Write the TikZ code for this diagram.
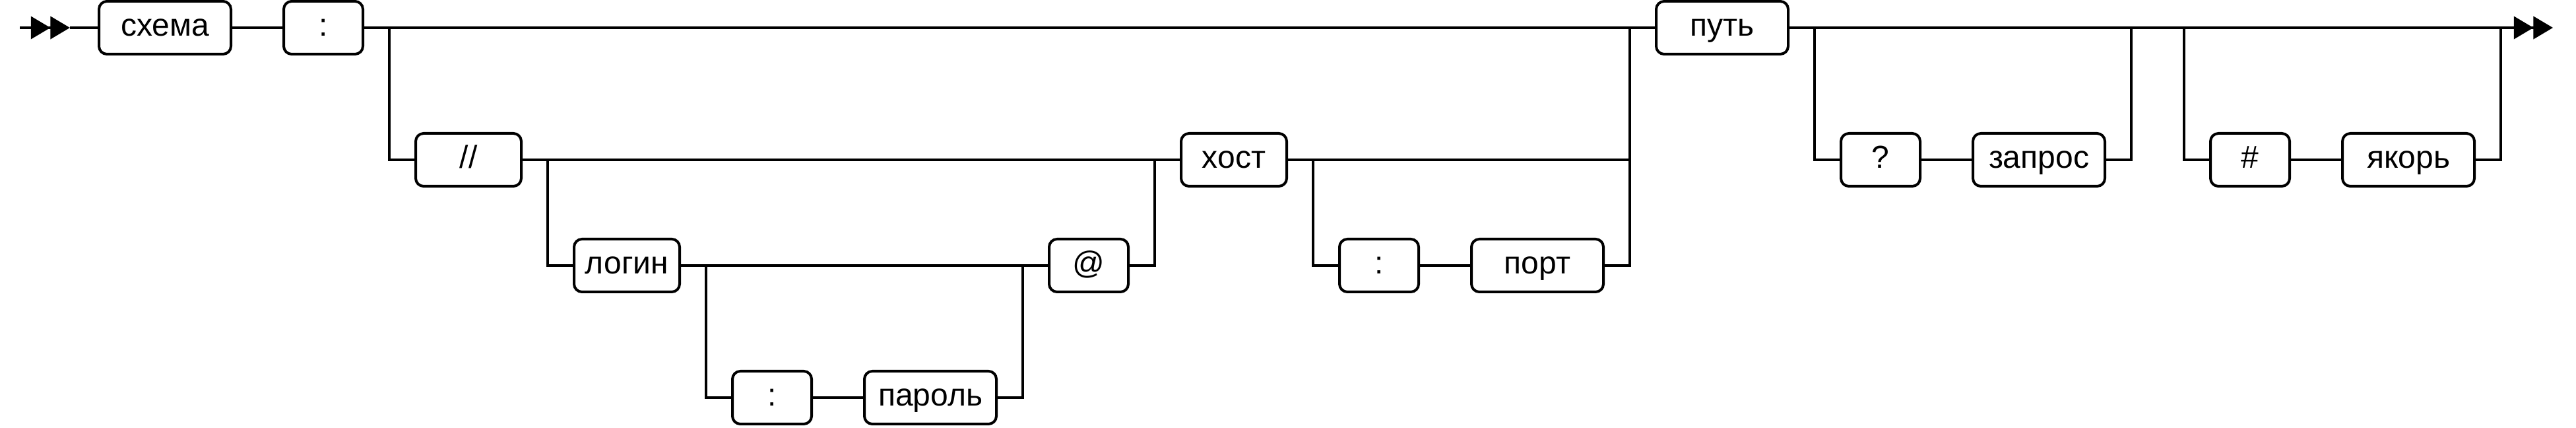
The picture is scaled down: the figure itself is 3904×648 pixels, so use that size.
\documentclass[tikz,border=0pt]{standalone}
\usepackage{fontspec}
\setmainfont{Liberation Sans}
\usetikzlibrary{arrows.meta}
\begin{document}
\begin{tikzpicture}[x=0.25pt,y=-0.25pt,
  line width=1pt,
  term/.style={draw, rounded corners=3pt, inner sep=0pt, outer sep=0pt,
    minimum height=20pt, text height=9pt, text depth=2.5pt,
    font=\fontsize{12pt}{14pt}\selectfont, anchor=center},
  w120/.style={term, minimum width=30pt},
  w160/.style={term, minimum width=40pt},
  w200/.style={term, minimum width=50pt},
  dtip/.style={-{Triangle[length=7.4pt,width=8.5pt,sep=0pt]Triangle[length=7.4pt,width=8.5pt]}}]
\useasboundingbox (0,0) rectangle (3904,648);
% nodes
\node[w200] (schema) at (250,42) {схема};
\node[w120] (c1) at (490,42) {:};
\node[w160] (sl) at (710,242) {//};
\node[w160] (login) at (950,402) {логин};
\node[w120] (c2) at (1170,602) {:};
\node[w200] (pass) at (1410,602) {пароль};
\node[w120] (at) at (1650,402) {@};
\node[w160] (host) at (1870,242) {хост};
\node[w120] (c3) at (2090,402) {:};
\node[w200] (port) at (2330,402) {порт};
\node[w200] (path) at (2610,42) {путь};
\node[w120] (q) at (2850,242) {?};
\node[w200] (query) at (3090,242) {запрос};
\node[w120] (hash) at (3410,242) {\#};
\node[w200] (anchor) at (3650,242) {якорь};
% coordinates
\coordinate (s) at (30,42);
\coordinate (m1) at (106,42);
\coordinate (e) at (3869,42);
\coordinate (j1) at (590,42);
\coordinate (j2) at (830,242);
\coordinate (j3) at (1070,402);
\coordinate (j4) at (1550,402);
\coordinate (j5) at (1750,242);
\coordinate (j6) at (1990,242);
\coordinate (j7) at (2470,42);
\coordinate (j8) at (2750,42);
\coordinate (j9) at (3230,42);
\coordinate (j10) at (3310,42);
\coordinate (j11) at (3790,42);
% connectors
\draw[dtip] (s) -- (m1);
\draw (m1) -- (schema.west);
\draw (schema) -- (c1);
\draw (c1) -- (path);
\draw (j1) |- (sl.west);
\draw (sl) -- (host);
\draw (j2) |- (login.west);
\draw (login) -- (at);
\draw (j3) |- (c2.west);
\draw (c2) -- (pass);
\draw (pass.east) -| (j4);
\draw (at.east) -| (j5);
\draw (j6) |- (c3.west);
\draw (c3) -- (port);
\draw (host.east) -| (j7);
\draw (port.east) -| (j7);
\draw[dtip] (path.east) -- (e);
\draw (j8) |- (q.west);
\draw (q) -- (query);
\draw (query.east) -| (j9);
\draw (j10) |- (hash.west);
\draw (hash) -- (anchor);
\draw (anchor.east) -| (j11);
\end{tikzpicture}
\end{document}
